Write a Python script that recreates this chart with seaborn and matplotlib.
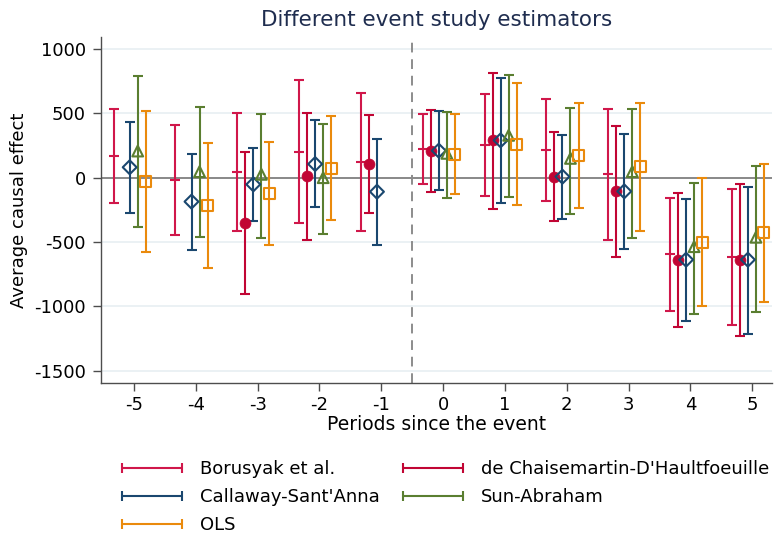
import numpy as np
import pandas as pd
import seaborn as sns
import matplotlib.pyplot as plt
from matplotlib.lines import Line2D

nan = np.nan

periods = [-5, -4, -3, -2, -1, 0, 1, 2, 3, 4, 5]

estimators = ["Borusyak et al.", "de Chaisemartin-D'Haultfoeuille",
              "Callaway-Sant'Anna", "Sun-Abraham", "OLS"]

# point estimates and 95% CI bounds
bjs_est = [169, -18, 44, 202, 122, 223, 254, 215, 26, -596, -616]
bjs_lo = [-197, -443, -414, -355, -414, -47, -140, -184, -482, -1036, -1145]
bjs_hi = [534, 409, 500, 762, 658, 492, 650, 611, 531, -155, -88]

dcdh_est = [nan, nan, -349, 13, 106, 210, 290, 8, -106, -637, -637]
dcdh_lo = [nan, nan, -904, -484, -274, -111, -241, -339, -614, -1160, -1230]
dcdh_hi = [nan, nan, 200, 503, 487, 529, 816, 355, 399, -116, -52]

cs_est = [81, -186, -52, 106, -109, 210, 290, 8, -106, -637, -637]
cs_lo = [-272, -559, -334, -228, -520, -96, -197, -318, -554, -1113, -1212]
cs_hi = [430, 184, 231, 446, 303, 518, 775, 332, 340, -168, -70]

sa_est = [207, 47, 26, 0, nan, 189, 329, 150, 47, -536, -463]
sa_lo = [-386, -461, -466, -435, nan, -160, -148, -280, -466, -1062, -1044]
sa_hi = [793, 549, 495, 415, nan, 508, 800, 542, 531, -44, 93]

ols_est = [-26, -215, -122, 75, nan, 182, 259, 174, 86, -502, -427]
ols_lo = [-575, -702, -520, -329, nan, -129, -215, -235, -417, -1000, -963]
ols_hi = [518, 272, 275, 477, nan, 492, 736, 583, 583, -5, 104]

y_ticks = [-1500, -1000, -500, 0, 500, 1000]

series = [
    (bjs_est, bjs_lo, bjs_hi),
    (dcdh_est, dcdh_lo, dcdh_hi),
    (cs_est, cs_lo, cs_hi),
    (sa_est, sa_lo, sa_hi),
    (ols_est, ols_lo, ols_hi),
]

# styling
colors = ["#d0174a", "#c10534", "#1a476f", "#5a7e30", "#ea8a0c"]
markers = ["_", "o", "D", "^", "s"]
filled = [True, True, False, False, False]
sizes = [55, 62, 50, 60, 62]
shifts = [-0.33, -0.20, -0.07, 0.06, 0.19]

rows = []
for name, (est, lo, hi), sh in zip(estimators, series, shifts):
    for p, e, l, h in zip(periods, est, lo, hi):
        rows.append({"estimator": name, "period": p, "x": p + sh,
                     "est": e, "lo": l, "hi": h})
df = pd.DataFrame(rows).dropna()

sns.set_style("white")
plt.rcParams['font.family'] = ['DejaVu Sans']
plt.rcParams['text.color'] = 'black'
plt.rcParams['axes.labelcolor'] = 'black'

fig = plt.figure(figsize=(7.74, 5.40), dpi=100)
ax = fig.add_axes([101 / 774, 1 - 383 / 540, (772 - 101) / 774, (383 - 37) / 540])

for yv in y_ticks:
    if yv != 0:
        ax.axhline(yv, color="#e9f0f3", lw=1.3, zorder=0)
ax.axhline(0, color="#7f7f7f", lw=1.3, zorder=1)
ax.axvline(-0.5, color="#8c8c8c", lw=1.4, ls=(0, (5, 3.5)), zorder=1)

handles = []
for i, name in enumerate(estimators):
    d = df[df["estimator"] == name]
    ax.errorbar(d["x"], d["est"], yerr=[d["est"] - d["lo"], d["hi"] - d["est"]],
                fmt="none", ecolor=colors[i], elinewidth=1.5, capsize=3.3,
                capthick=1.5, zorder=2)
    if markers[i] == "_":
        sns.scatterplot(x=d["x"], y=d["est"], marker="_", s=sizes[i],
                        color=colors[i], linewidth=1.5, ax=ax, zorder=3, legend=False)
    elif filled[i]:
        sns.scatterplot(x=d["x"], y=d["est"], marker=markers[i], s=sizes[i],
                        color=colors[i], edgecolor=colors[i], linewidth=0.5,
                        ax=ax, zorder=3, legend=False)
    else:
        sns.scatterplot(x=d["x"], y=d["est"], marker=markers[i], s=sizes[i],
                        color=colors[i], facecolor="none", edgecolor=colors[i],
                        linewidth=1.5, ax=ax, zorder=3, legend=False)
    handles.append(Line2D([0, 1], [0, 0], color=colors[i], lw=1.5, marker="|",
                          markersize=7, markeredgewidth=1.5, label=name))

ax.set_xlim(-5.534, 5.32)
ax.set_ylim(-1595, 1093)
ax.set_xticks(periods)
ax.set_xticklabels([str(p) for p in periods], fontsize=13)
ax.set_yticks(y_ticks)
ax.set_yticklabels([str(v) for v in y_ticks], fontsize=13)
ax.tick_params(axis="both", direction="out", length=6, width=1, color="#4d4d4d",
               labelcolor="black", bottom=True, left=True)
ax.tick_params(axis="y", pad=5)
ax.tick_params(axis="x", pad=3)

for s in ["top", "right"]:
    ax.spines[s].set_visible(False)
for s in ["left", "bottom"]:
    ax.spines[s].set_color("#4d4d4d")
    ax.spines[s].set_linewidth(1)

ax.set_xlabel("Periods since the event", fontsize=13.5, labelpad=1)
ax.set_ylabel("Average causal effect", fontsize=13, labelpad=4)
ax.set_title("Different event study estimators", fontsize=15.5,
             color="#1f2d4f", pad=8)

# legend order: Borusyak, dCDH / CS, SA / OLS (row-wise in two columns)
order = [0, 2, 4, 1, 3]
fig.legend([handles[k] for k in order], [estimators[k] for k in order],
           loc="upper left", bbox_to_anchor=(117 / 774, 1 - 460 / 540),
           ncol=2, frameon=False, fontsize=13, numpoints=2,
           handlelength=3.9, handletextpad=0.7, columnspacing=1.0,
           labelspacing=0.55, borderpad=0, borderaxespad=0)

fig.savefig("out.png", dpi=100)
